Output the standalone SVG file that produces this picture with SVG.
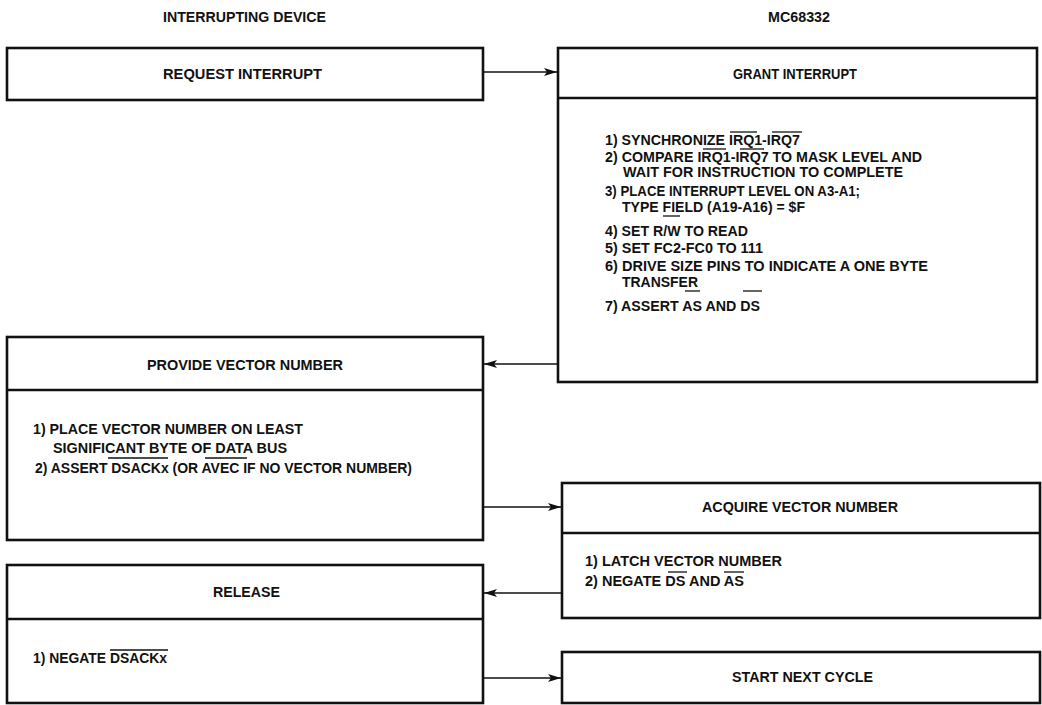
<svg xmlns="http://www.w3.org/2000/svg" width="1042" height="705" viewBox="0 0 1042 705">
<defs>
<marker id="ah" markerWidth="14" markerHeight="10" refX="13" refY="5" orient="auto" markerUnits="userSpaceOnUse">
<path d="M0,1 L13,5 L0,9 L3,5 Z" fill="#111"/>
</marker>
<style>
.box{fill:#fff;stroke:#111;stroke-width:2.6}
.div{stroke:#111;stroke-width:2.4}
.t{font-family:"Liberation Sans",Arial,sans-serif;font-size:14px;font-weight:bold;fill:#111}
.c{stroke:#111;stroke-width:1.6;fill:none}
.ov{stroke:#111;stroke-width:1.3}
</style>
</defs>
<rect width="1042" height="705" fill="#fff"/>
<text class="t" x="163" y="22" textLength="163" lengthAdjust="spacingAndGlyphs">INTERRUPTING DEVICE</text>
<text class="t" x="768" y="22" textLength="62" lengthAdjust="spacingAndGlyphs">MC68332</text>

<g id="request">
<rect class="box" x="7" y="48" width="476" height="52"/>
<text class="t" x="163" y="79" textLength="159" lengthAdjust="spacingAndGlyphs">REQUEST INTERRUPT</text>
</g>

<g id="grant">
<rect class="box" x="558" y="48" width="479" height="334"/>
<line class="div" x1="558" y1="98" x2="1037" y2="98"/>
<text class="t" x="733" y="79" textLength="124" lengthAdjust="spacingAndGlyphs">GRANT INTERRUPT</text>
<text class="t" x="605" y="145" textLength="195" lengthAdjust="spacingAndGlyphs">1) SYNCHRONIZE IRQ1-IRQ7</text>
<line class="ov" x1="730" y1="132" x2="757" y2="132"/>
<line class="ov" x1="772" y1="132" x2="802" y2="132"/>
<line class="ov" x1="703" y1="149" x2="726" y2="149"/>
<line class="ov" x1="740" y1="149" x2="764" y2="149"/>
<text class="t" x="605" y="162" textLength="317" lengthAdjust="spacingAndGlyphs">2) COMPARE IRQ1-IRQ7 TO MASK LEVEL AND</text>
<text class="t" x="623" y="177" textLength="280" lengthAdjust="spacingAndGlyphs">WAIT FOR INSTRUCTION TO COMPLETE</text>
<text class="t" x="605" y="196" textLength="255" lengthAdjust="spacingAndGlyphs">3) PLACE INTERRUPT LEVEL ON A3-A1;</text>
<text class="t" x="622" y="212" textLength="183" lengthAdjust="spacingAndGlyphs">TYPE FIELD (A19-A16) = $F</text>
<line class="ov" x1="663" y1="216" x2="680" y2="216"/>
<text class="t" x="605" y="236" textLength="143" lengthAdjust="spacingAndGlyphs">4) SET R/W TO READ</text>
<text class="t" x="605" y="253" textLength="158" lengthAdjust="spacingAndGlyphs">5) SET FC2-FC0 TO 111</text>
<text class="t" x="605" y="271" textLength="323" lengthAdjust="spacingAndGlyphs">6) DRIVE SIZE PINS TO  INDICATE A ONE BYTE</text>
<text class="t" x="622" y="287" textLength="76" lengthAdjust="spacingAndGlyphs">TRANSFER</text>
<line class="ov" x1="685" y1="291" x2="700" y2="291"/>
<line class="ov" x1="743" y1="291" x2="762" y2="291"/>
<text class="t" x="605" y="311" textLength="155" lengthAdjust="spacingAndGlyphs">7) ASSERT AS AND DS</text>
</g>

<g id="provide">
<rect class="box" x="7" y="337" width="476" height="203"/>
<line class="div" x1="7" y1="390" x2="483" y2="390"/>
<text class="t" x="147" y="370" textLength="196" lengthAdjust="spacingAndGlyphs">PROVIDE VECTOR NUMBER</text>
<text class="t" x="33" y="434" textLength="270" lengthAdjust="spacingAndGlyphs">1) PLACE VECTOR NUMBER ON LEAST</text>
<text class="t" x="53" y="453" textLength="234" lengthAdjust="spacingAndGlyphs">SIGNIFICANT BYTE OF DATA BUS</text>
<line class="ov" x1="108" y1="458" x2="168" y2="458"/>
<line class="ov" x1="205" y1="458" x2="247" y2="458"/>
<text class="t" x="35" y="473" textLength="377" lengthAdjust="spacingAndGlyphs">2) ASSERT DSACKx (OR AVEC IF NO VECTOR NUMBER)</text>
</g>

<g id="acquire">
<rect class="box" x="562" y="483" width="478" height="135"/>
<line class="div" x1="562" y1="533" x2="1040" y2="533"/>
<text class="t" x="702" y="512" textLength="196" lengthAdjust="spacingAndGlyphs">ACQUIRE VECTOR NUMBER</text>
<text class="t" x="585" y="566" textLength="197" lengthAdjust="spacingAndGlyphs">1) LATCH VECTOR NUMBER</text>
<line class="ov" x1="668" y1="572" x2="687" y2="572"/>
<line class="ov" x1="724" y1="572" x2="744" y2="572"/>
<text class="t" x="585" y="586" textLength="159" lengthAdjust="spacingAndGlyphs">2) NEGATE DS AND AS</text>
</g>

<g id="release">
<rect class="box" x="7" y="565" width="476" height="138"/>
<line class="div" x1="7" y1="619" x2="483" y2="619"/>
<text class="t" x="213" y="597" textLength="67" lengthAdjust="spacingAndGlyphs">RELEASE</text>
<text class="t" x="33" y="663" textLength="134" lengthAdjust="spacingAndGlyphs">1) NEGATE DSACKx</text>
<line class="ov" x1="110" y1="650" x2="168" y2="650"/>
</g>

<g id="start">
<rect class="box" x="562" y="652" width="478" height="51"/>
<text class="t" x="732" y="682" textLength="141" lengthAdjust="spacingAndGlyphs">START NEXT CYCLE</text>
</g>

<g id="connectors">
<line class="c" x1="483" y1="72" x2="557" y2="72" marker-end="url(#ah)"/>
<line class="c" x1="558" y1="364" x2="484" y2="364" marker-end="url(#ah)"/>
<line class="c" x1="483" y1="507" x2="561" y2="507" marker-end="url(#ah)"/>
<line class="c" x1="562" y1="593" x2="484" y2="593" marker-end="url(#ah)"/>
<line class="c" x1="483" y1="678" x2="561" y2="678" marker-end="url(#ah)"/>
</g>
</svg>
